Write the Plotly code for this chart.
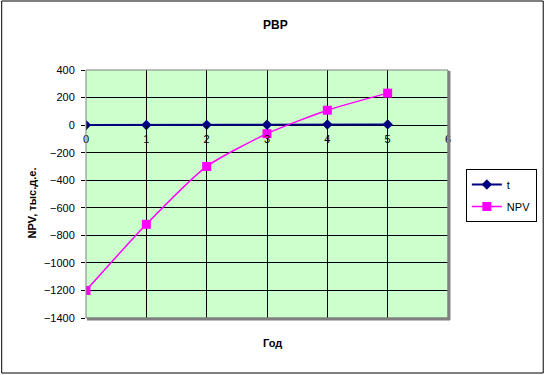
import plotly.graph_objects as go

years = [0, 1, 2, 3, 4, 5]
t_values = [0, 1, 2, 3, 4, 5]
npv_values = [-1200, -720, -300, -62, 108, 232]

W, H = 549, 375
L, R, T, B = 86, 451, 70, 318

def px(xp):
    return (xp - L) / (R - L)

def py(yp):
    return (B - yp) / (B - T)

font = "Liberation Sans, Arial, sans-serif"

fig = go.Figure()
fig.add_trace(go.Scatter(
    x=years, y=t_values, name="t", mode="lines+markers",
    line=dict(color="#000080", width=2),
    marker=dict(symbol="diamond", size=8, color="#000080"),
    legendgroup="a",
))
fig.add_trace(go.Scatter(
    x=years, y=npv_values, name="NPV", mode="lines+markers",
    line=dict(color="#FF00FF", width=1.5, shape="spline", smoothing=0.6),
    marker=dict(symbol="square", size=9, color="#FF00FF"),
    legendgroup="b",
))

ymin, ymax = -1400, 400
fig.update_layout(
    width=W, height=H,
    margin=dict(l=L, r=W - R, t=T, b=H - B, pad=0),
    paper_bgcolor="white",
    plot_bgcolor="#CCFFCC",
    font=dict(family=font, size=11, color="black"),
    showlegend=True,
    legend=dict(
        x=px(469), y=py(169), xanchor="left", yanchor="top",
        bgcolor="white", bordercolor="black", borderwidth=1,
        font=dict(family=font, size=11, color="black"),
        tracegroupgap=3, itemwidth=30,
    ),
    xaxis=dict(
        range=[0, 6], dtick=1, tick0=0,
        showgrid=True, gridcolor="black", gridwidth=1,
        zeroline=False, showline=False,
        anchor="free", position=(0 - ymin) / (ymax - ymin),
        ticks="outside", ticklen=4, tickcolor="black",
        tickfont=dict(family=font, size=11, color="black"),
    ),
    yaxis=dict(
        range=[ymin, ymax], dtick=200, tick0=0,
        showgrid=True, gridcolor="black", gridwidth=1,
        zeroline=True, zerolinecolor="black", zerolinewidth=1,
        showline=False,
        ticks="outside", ticklen=4, tickcolor="black",
        ticklabelstandoff=4,
        tickfont=dict(family=font, size=11, color="black"),
    ),
    shapes=[
        dict(type="rect", xref="paper", yref="paper", x0=0, x1=1, y0=0, y1=1,
             line=dict(color="#808080", width=1), layer="above"),
        dict(type="line", xref="paper", yref="paper", x0=px(R + 1), x1=px(R + 1),
             y0=py(T + 1), y1=py(B + 2), line=dict(color="#808080", width=3), layer="above"),
        dict(type="line", xref="paper", yref="paper", x0=px(L + 1), x1=px(R + 2),
             y0=py(B + 1), y1=py(B + 1), line=dict(color="#808080", width=3), layer="above"),
        dict(type="rect", xref="paper", yref="paper", x0=px(1), x1=px(547),
             y0=py(373), y1=py(1), line=dict(color="black", width=1), layer="above"),
    ],
    annotations=[
        dict(text="<b>PBP</b>", xref="paper", yref="paper", x=px(277), y=py(25),
             showarrow=False, font=dict(family=font, size=12, color="black"),
             xanchor="center", yanchor="middle"),
        dict(text="<b>Год</b>", xref="paper", yref="paper", x=px(274), y=py(343),
             showarrow=False, font=dict(family=font, size=11, color="black"),
             xanchor="center", yanchor="middle"),
        dict(text="<b>NPV, тыс.д.е.</b>", xref="paper", yref="paper", x=px(32), y=py(203),
             showarrow=False, textangle=-90, font=dict(family=font, size=11, color="black"),
             xanchor="center", yanchor="middle"),
    ],
)

fig.write_html("out.html", config={"displayModeBar": False},
               post_script="document.body.style.margin='0';")
